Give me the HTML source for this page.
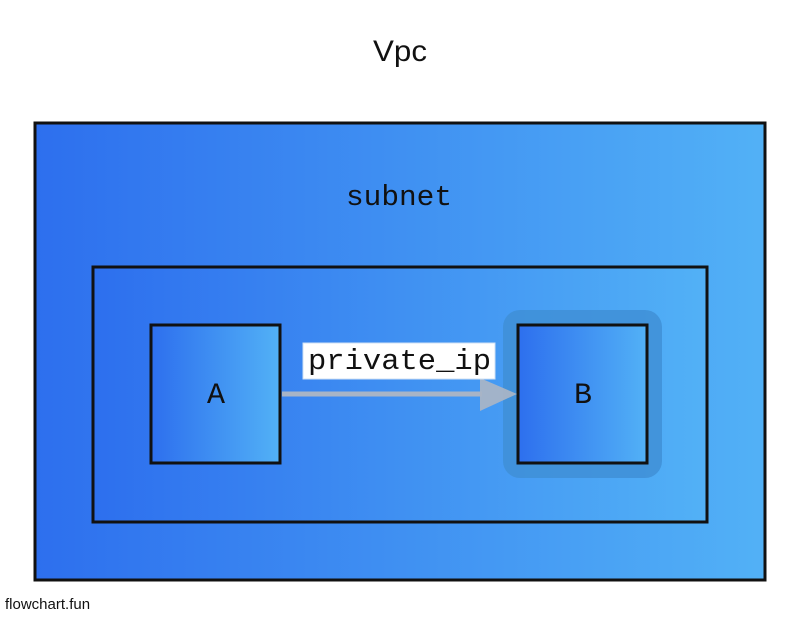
<!DOCTYPE html>
<html><head><meta charset="utf-8"><style>
html,body{margin:0;padding:0;background:#fff;}
svg{display:block}
text{font-family:"Liberation Mono",monospace;fill:#111;}
</style></head><body>
<svg width="801" height="618" viewBox="0 0 801 618" xmlns="http://www.w3.org/2000/svg">
<defs>
<linearGradient id="g" x1="0" y1="0" x2="1" y2="0">
<stop offset="0" stop-color="#2d6fee"/><stop offset="1" stop-color="#52b1f6"/>
</linearGradient>
</defs>
<text x="373" y="61" font-size="30" textLength="54" lengthAdjust="spacingAndGlyphs" style="font-family:'Liberation Sans',sans-serif">Vpc</text>
<rect x="35" y="123" width="730" height="457" fill="url(#g)" stroke="#111" stroke-width="3"/>
<text x="346" y="205" font-size="29" textLength="106" lengthAdjust="spacingAndGlyphs">subnet</text>
<rect x="93" y="267" width="614" height="255" fill="url(#g)" stroke="#111" stroke-width="3"/>
<rect x="151" y="325" width="129" height="138" fill="url(#g)" stroke="#111" stroke-width="3"/>
<text x="216" y="403" font-size="30" text-anchor="middle">A</text>
<rect x="503" y="310" width="159" height="168" rx="17" fill="#3f8fd6" opacity="0.85"/>
<rect x="518" y="325" width="129" height="138" fill="url(#g)" stroke="#111" stroke-width="3"/>
<text x="583" y="403" font-size="30" text-anchor="middle">B</text>
<line x1="282" y1="394" x2="482" y2="394" stroke="#a8b4c6" stroke-width="5"/>
<polygon points="480,378 517,394 480,411" fill="#a8b4c6" opacity="0.95"/>
<rect x="303" y="343" width="192" height="36" fill="#fff" stroke="#cfe0f5" stroke-width="1"/>
<text x="308" y="369" font-size="29" textLength="183" lengthAdjust="spacingAndGlyphs">private_ip</text>
<text x="5" y="609" font-size="15" style="font-family:'Liberation Sans',sans-serif">flowchart.fun</text>
</svg>
</body></html>
